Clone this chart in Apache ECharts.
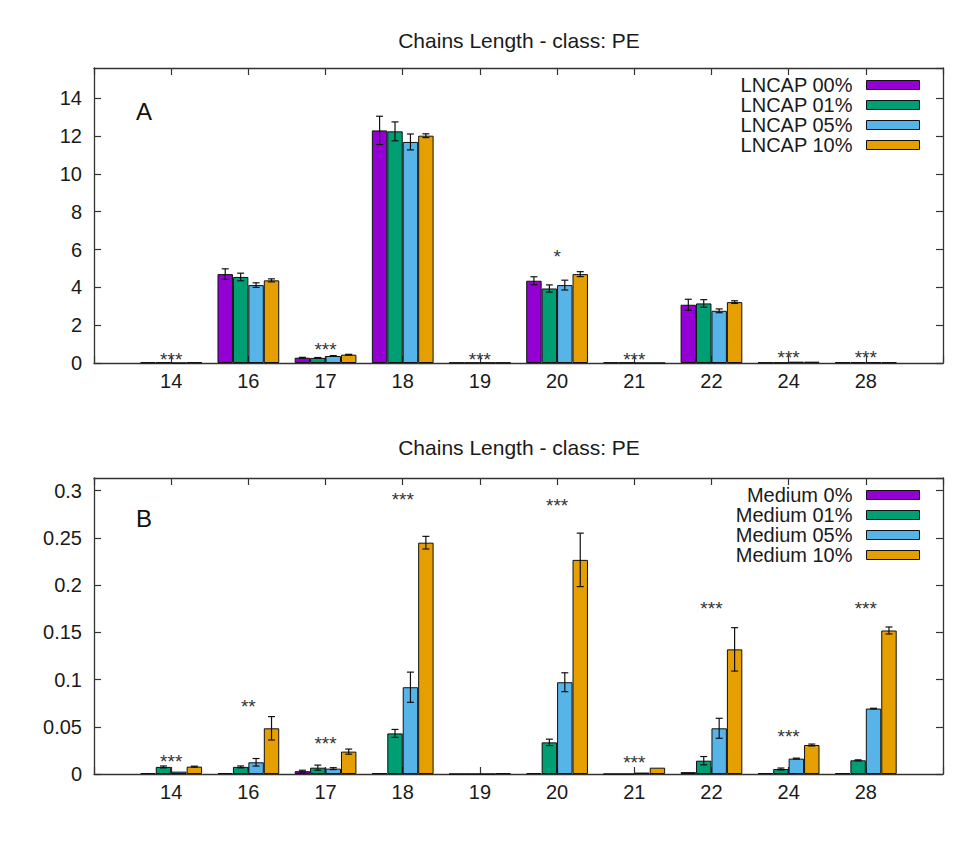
<!DOCTYPE html>
<html>
<head>
<meta charset="utf-8">
<script src="https://cdn.jsdelivr.net/npm/echarts@6/dist/echarts.min.js"></script>
<style>
html,body{margin:0;padding:0;background:#fff;}
#c{width:966px;height:843px;}
</style>
</head>
<body>
<div id="c"></div>
<script>
// ---------- data ----------
const categories = ['14','16','17','18','19','20','21','22','24','28'];

const titleText = 'Chains Length - class: PE';

// Panel A (LNCAP)
const namesA = ['LNCAP 00%','LNCAP 01%','LNCAP 05%','LNCAP 10%'];
const lncap00 = [0.04, 4.70, 0.28, 12.30, 0.02, 4.35, 0.03, 3.08, 0.03, 0.04];
const lncap01 = [0.04, 4.55, 0.27, 12.25, 0.02, 3.94, 0.03, 3.15, 0.03, 0.04];
const lncap05 = [0.00, 4.12, 0.37, 11.69, 0.02, 4.12, 0.00, 2.76, 0.07, 0.04];
const lncap10 = [0.04, 4.37, 0.44, 12.02, 0.02, 4.70, 0.00, 3.22, 0.07, 0.04];
const errA00 = [0, 0.28, 0.02, 0.75, 0, 0.21, 0, 0.29, 0, 0];
const errA01 = [0, 0.20, 0.02, 0.50, 0, 0.19, 0, 0.20, 0, 0];
const errA05 = [0, 0.12, 0.02, 0.42, 0, 0.26, 0, 0.10, 0, 0];
const errA10 = [0, 0.08, 0.02, 0.10, 0, 0.13, 0, 0.07, 0, 0];
const starsA  = ['***', '', '***', '', '***', '*', '***', '', '***', '***'];
const starsAY = [0.4, null, 0.9, null, 0.4, 5.85, 0.4, null, 0.5, 0.5];

// Panel B (Medium)
const namesB = ['Medium 0%','Medium 01%','Medium 05%','Medium 10%'];
const med00 = [0.001, 0.001, 0.003, 0.001, 0, 0.001, 0, 0.002, 0.001, 0.001];
const med01 = [0.0075, 0.0075, 0.0067, 0.043, 0, 0.0335, 0, 0.0141, 0.0053, 0.0145];
const med05 = [0.0025, 0.0124, 0.0057, 0.0919, 0, 0.0972, 0.0015, 0.0484, 0.0163, 0.0693];
const med10 = [0.0078, 0.0484, 0.0237, 0.245, 0.0008, 0.2268, 0.0067, 0.132, 0.0307, 0.152];
const errB00 = [0, 0, 0.001, 0, 0, 0, 0, 0, 0, 0];
const errB01 = [0.001, 0.001, 0.0027, 0.0042, 0, 0.0034, 0, 0.0044, 0.001, 0.0005];
const errB05 = [0, 0.004, 0.001, 0.016, 0, 0.010, 0, 0.0106, 0.0005, 0.0003];
const errB10 = [0.0005, 0.0124, 0.0027, 0.0067, 0, 0.0283, 0, 0.023, 0.001, 0.0037];
const starsB  = ['***', '**', '***', '***', '', '***', '***', '***', '***', '***'];
const starsBY = [0.0177, 0.076, 0.0368, 0.2947, null, 0.2883, 0.0163, 0.179, 0.0438, 0.179];

const colors = ['#9400D3', '#009E73', '#56B4E9', '#E69F00'];

// ---------- build ----------
const FONT = '"Liberation Sans", Arial, sans-serif';
const TXT = '#1a1a1a';
const axisData = [''].concat(categories, ['']);
const pad = arr => [null].concat(arr, [null]);

function xAxes(grid) {
  const common = {
    type: 'category', gridIndex: grid, data: axisData, boundaryGap: false,
    axisLine: {show: true, onZero: false, lineStyle: {color: '#333', width: 1.3}},
    axisTick: {show: true, inside: true, length: 7, lineStyle: {color: '#333', width: 1.2}},
    splitLine: {show: false}
  };
  return [
    Object.assign({}, common, {position: 'bottom',
      axisLabel: {show: true, color: TXT, fontSize: 20, fontFamily: FONT, margin: 8, interval: 0}}),
    Object.assign({}, common, {position: 'top', axisLabel: {show: false}})
  ];
}
function yAxes(grid, max, interval) {
  const common = {
    type: 'value', gridIndex: grid, min: 0, max: max, interval: interval,
    axisLine: {show: true, onZero: false, lineStyle: {color: '#333', width: 1.3}},
    axisTick: {show: true, inside: true, length: 7, lineStyle: {color: '#333', width: 1.2}},
    splitLine: {show: false}
  };
  return [
    Object.assign({}, common, {position: 'left',
      axisLabel: {show: true, color: TXT, fontSize: 20, fontFamily: FONT, margin: 12, showMaxLabel: false}}),
    Object.assign({}, common, {position: 'right', axisLabel: {show: false}})
  ];
}

function barSeries(name, vals, k, xi, yi) {
  return {
    name: name, type: 'bar', xAxisIndex: xi, yAxisIndex: yi,
    data: pad(vals), barGap: '0%', barCategoryGap: '20%',
    itemStyle: {color: colors[k], borderColor: '#111', borderWidth: 1},
    emphasis: {disabled: true}, z: 2
  };
}
function errSeries(vals, errs, k, xi, yi) {
  return {
    type: 'custom', xAxisIndex: xi, yAxisIndex: yi, z: 4, silent: true,
    encode: {x: 0, y: 1},
    data: vals.map((v, i) => [i + 1, v, errs[i]]),
    renderItem: function (params, api) {
      const c = api.value(0), v = api.value(1), e = api.value(2);
      if (!e) return null;
      const band = api.size([1, 0])[0];
      const bw = band * 0.8 / 4;
      const cx = api.coord([c, v])[0] + (k - 1.5) * bw;
      const y1 = api.coord([c, v + e])[1];
      const y2 = api.coord([c, Math.max(0, v - e)])[1];
      const st = {stroke: '#111', lineWidth: 1.2};
      const hw = 3.5;
      return {type: 'group', children: [
        {type: 'line', shape: {x1: cx, y1: y1, x2: cx, y2: y2}, style: st},
        {type: 'line', shape: {x1: cx - hw, y1: y1, x2: cx + hw, y2: y1}, style: st},
        {type: 'line', shape: {x1: cx - hw, y1: y2, x2: cx + hw, y2: y2}, style: st}
      ]};
    }
  };
}
function starSeries(texts, ys, xi, yi) {
  const data = [];
  texts.forEach((t, i) => { if (t) data.push([i + 1, ys[i], t]); });
  return {
    type: 'custom', xAxisIndex: xi, yAxisIndex: yi, z: 5, silent: true,
    encode: {x: 0, y: 1},
    data: data,
    renderItem: function (params, api) {
      const p = api.coord([api.value(0), api.value(1)]);
      const t = data[params.dataIndex][2];
      return {type: 'text', x: p[0], y: p[1] + 4,
        style: {text: t, fontSize: 19, fontFamily: FONT, fill: '#333', align: 'center', verticalAlign: 'middle'}};
    }
  };
}

const valsA = [lncap00, lncap01, lncap05, lncap10];
const errsA = [errA00, errA01, errA05, errA10];
const valsB = [med00, med01, med05, med10];
const errsB = [errB00, errB01, errB05, errB10];

const series = [];
valsA.forEach((v, k) => series.push(barSeries(namesA[k], v, k, 0, 0)));
valsA.forEach((v, k) => series.push(errSeries(v, errsA[k], k, 0, 0)));
series.push(starSeries(starsA, starsAY, 0, 0));
valsB.forEach((v, k) => series.push(barSeries(namesB[k], v, k, 2, 2)));
valsB.forEach((v, k) => series.push(errSeries(v, errsB[k], k, 2, 2)));
series.push(starSeries(starsB, starsBY, 2, 2));

function legend(names, top) {
  return {
    data: names, orient: 'vertical', align: 'right', right: 41, top: top,
    itemWidth: 53, itemHeight: 9, itemGap: 0, selectedMode: false,
    icon: 'rect',
    itemStyle: {borderColor: '#111', borderWidth: 1},
    textStyle: {color: TXT, fontSize: 20, fontFamily: FONT, lineHeight: 20, padding: [0, 9, 0, 0]}
  };
}

const option = {
  animation: false,
  backgroundColor: '#fff',
  title: [
    {text: titleText, left: 514, top: 25, textAlign: 'center',
      textStyle: {color: TXT, fontSize: 21, fontWeight: 'normal', fontFamily: FONT}},
    {text: titleText, left: 514, top: 432, textAlign: 'center',
      textStyle: {color: TXT, fontSize: 21, fontWeight: 'normal', fontFamily: FONT}}
  ],
  grid: [
    {left: 94, right: 23, top: 68, height: 295, containLabel: false},
    {left: 94, right: 23, top: 478, height: 296, containLabel: false}
  ],
  legend: [legend(namesA, 70), legend(namesB, 480)],
  xAxis: xAxes(0).concat(xAxes(1)),
  yAxis: yAxes(0, 15.6, 2).concat(yAxes(1, 0.3135, 0.05)),
  graphic: [
    {type: 'text', left: 136, top: 99, style: {text: 'A', fontSize: 24, fontFamily: FONT, fill: '#111'}},
    {type: 'text', left: 136, top: 506, style: {text: 'B', fontSize: 24, fontFamily: FONT, fill: '#111'}}
  ],
  series: series
};

const chart = echarts.init(document.getElementById('c'), null, {renderer: 'svg'});
chart.setOption(option);
</script>
</body>
</html>
